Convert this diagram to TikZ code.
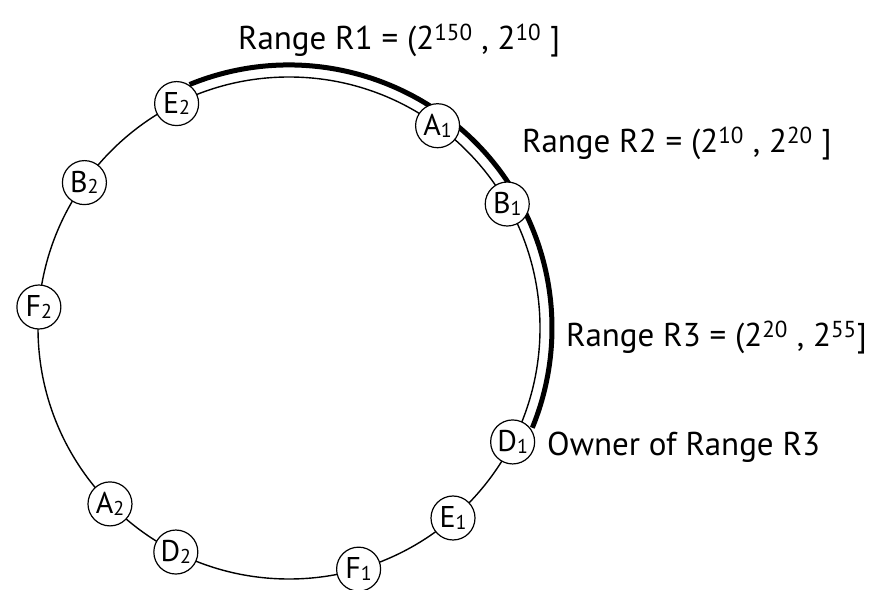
\documentclass[tikz,border=0pt]{standalone}
\usepackage{fontspec}
\setmainfont{PT Sans}
\usetikzlibrary{positioning}

\newcommand{\peersub}[1]{\raisebox{-1.5pt}{\fontsize{20}{20}\selectfont #1}}

\begin{document}
\begin{tikzpicture}[x=1pt, y=1pt]
                    \tikzstyle{peer} = [draw, circle, fill=white, line width=1.2pt, minimum size=44pt, inner sep=0pt, font=\fontsize{30}{32}\selectfont]
                    \tikzstyle{rangelabel} = [anchor=base west, inner sep=0pt, font=\fontsize{33}{36}\selectfont]
                    \useasboundingbox (0,0) rectangle (874,589);
                    \begin{scope}[shift={(289,261)}]
                    \draw[line width=1.4pt] (0,0) circle (251);
                    \draw[line width=5pt] (112.2:263) arc (112.2:-22.3:263);
                    \node[peer] (E2) at (116.6:251) {E\peersub{2}};
                    \node[peer] (A1) at (53.7:251) {A\peersub{1}};
                    \node[peer] (B1) at (29.6:251) {B\peersub{1}};
                    \node[peer] (D1) at (-27.0:251) {D\peersub{1}};
                    \node[peer] (E1) at (-49.2:251) {E\peersub{1}};
                    \node[peer] (F1) at (-73.9:251) {F\peersub{1}};
                    \node[peer] (D2) at (-116.8:251) {D\peersub{2}};
                    \node[peer] (A2) at (-135.5:251) {A\peersub{2}};
                    \node[peer] (F2) at (175.2:251) {F\peersub{2}};
                    \node[peer] (B2) at (144.6:251) {B\peersub{2}};
                    \end{scope}
                    
                    \node[rangelabel] (r1) at (238, 539) {Range R1 = (2\textsuperscript{150} , 2\textsuperscript{10} ]};
                    \node[rangelabel] (r2) at (522, 436) {Range R2 = (2\textsuperscript{10} , 2\textsuperscript{20} ]};
                    \node[rangelabel] (r3) at (566, 242) {Range R3 = (2\textsuperscript{20} , 2\textsuperscript{55}]};
                    \node[rangelabel] (owner) at (547, 134) {Owner of Range R3};
                \end{tikzpicture}
\end{document}
